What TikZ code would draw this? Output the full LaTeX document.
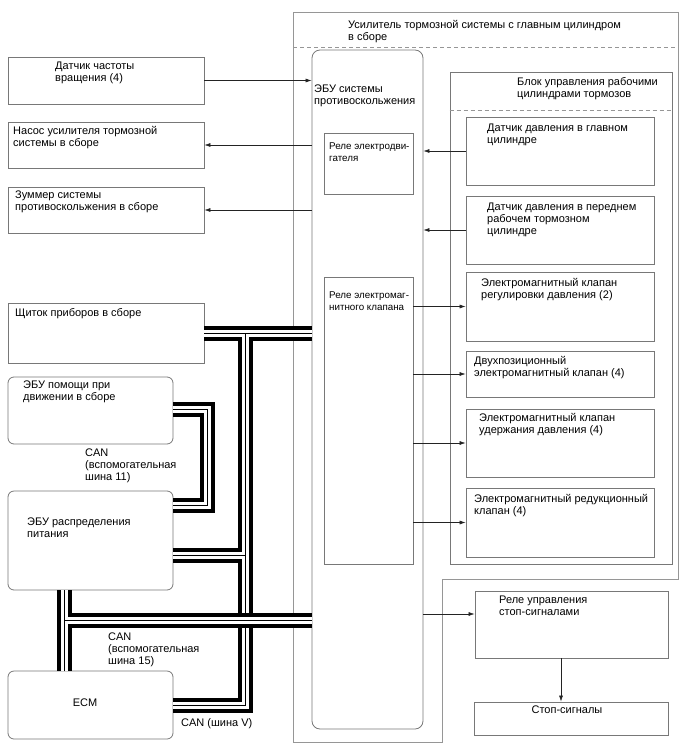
\documentclass[tikz,border=0pt]{standalone}
\usepackage{fontspec}
\setmainfont{Liberation Sans}
\usepackage{tikz}
\usetikzlibrary{arrows.meta, calc}
\definecolor{BoxGray}{RGB}{120,120,120}
\definecolor{FrameGray}{RGB}{150,150,150}
\definecolor{WireGray}{RGB}{35,35,35}

\begin{document}
\begin{tikzpicture}[x=1pt, y=-1pt,
    box/.style={rectangle, draw=BoxGray, line width=0.8pt, inner sep=0pt},
    rbox/.style={box, rounded corners=6pt},
    txt/.style={anchor=north west, inner sep=0pt, align=left, yshift=-2pt,
                font=\fontsize{11}{12}\selectfont},
    small/.style={txt, font=\fontsize{9.8}{12}\selectfont},
    arr/.style={-{Latex[length=6pt, width=4pt]}, WireGray, line width=0.6pt},
    divider/.style={FrameGray, dash pattern=on 4pt off 3pt, line width=0.8pt}
  ]
  \useasboundingbox (0,0) rectangle (688,755);

  % Booster assembly frame
  \draw[FrameGray, line width=0.9pt] (293,12) -- (678,12) -- (678,579)
        -- (442,579) -- (442,742) -- (293,742) -- cycle;
  \coordinate (fl) at (293,47);
  \coordinate (fr) at (678,47);
  \draw[divider] (fl) -- (fr);
  \node[txt] (asm-t) at (348,18)
        {Усилитель тормозной системы с главным цилиндром\\в сборе};

  % Skid control ECU
  \node[box, rounded corners=8pt, minimum width=111pt, minimum height=679pt]
        (ecu) at (367.5,389.5) {};
  \node[txt] (ecu-t) at (314,83) {ЭБУ системы\\противоскольжения};
  \node[box, minimum width=89pt, minimum height=61pt] (mr) at (368.5,163.5) {};
  \node[small] (mr-t) at (329,141) {Реле электродви-\\гателя};
  \node[box, minimum width=89pt, minimum height=287pt] (rv) at (368.5,420.5) {};
  \node[small] (rv-t) at (329,290) {Реле электромаг-\\нитного клапана};

  % Brake actuator block
  \node[box, minimum width=222pt, minimum height=492pt] (blk) at (561,318) {};
  \draw[divider] (blk.west |- 0,110) -- (blk.east |- 0,110);
  \node[txt] (blk-t) at (517,75) {Блок управления рабочими\\цилиндрами тормозов};
  \foreach \i/\y/\h in {1/151/68, 2/230/68, 3/306.5/69,
                        4/374/46, 5/443/68, 6/522.5/69} {
    \node[box, minimum width=188pt, minimum height=\h pt] (bk\i) at (560,\y) {};
  }
  \node[txt] (bk1-t) at (487,122) {Датчик давления в главном\\цилиндре};
  \node[txt] (bk2-t) at (487,201) {Датчик давления в переднем\\рабочем тормозном\\цилиндре};
  \node[txt] (bk3-t) at (481,276) {Электромагнитный клапан\\регулировки давления (2)};
  \node[txt] (bk4-t) at (474,354) {Двухпозиционный\\электромагнитный клапан (4)};
  \node[txt] (bk5-t) at (479,411) {Электромагнитный клапан\\удержания давления (4)};
  \node[txt] (bk6-t) at (474,492) {Электромагнитный редукционный\\клапан (4)};

  % Stop lamp relay and stop lamps
  \node[box, minimum width=193pt, minimum height=67pt] (blr) at (571.5,624.5) {};
  \node[txt] (blr-t) at (499,594) {Реле управления\\стоп-сигналами};
  \node[box, minimum width=194pt, minimum height=33pt] (stp) at (571,718.5) {};
  \node[font=\fontsize{11}{12}\selectfont, inner sep=0pt] (stp-t) at (567,710) {Стоп-сигналы};

  % Left side units
  \node[box, minimum width=196pt, minimum height=47pt] (dat) at (106,80.5) {};
  \node[txt] (dat-t) at (55,60) {Датчик частоты\\вращения (4)};
  \node[box, minimum width=196pt, minimum height=46pt] (pump) at (106,145) {};
  \node[txt] (pump-t) at (13,124) {Насос усилителя тормозной\\системы в сборе};
  \node[box, minimum width=196pt, minimum height=46pt] (buzz) at (106,210) {};
  \node[txt] (buzz-t) at (15,189) {Зуммер системы\\противоскольжения в сборе};
  \node[box, minimum width=196pt, minimum height=60pt] (clu) at (106,333) {};
  \node[txt] (clu-t) at (15,306) {Щиток приборов в сборе};
  \node[rbox, minimum width=165pt, minimum height=67pt] (dam) at (90.5,410.5) {};
  \node[txt] (dam-t) at (23,379) {ЭБУ помощи при\\движении в сборе};
  \node[rbox, minimum width=165pt, minimum height=99pt] (pdu) at (90.5,540.5) {};
  \node[txt] (pdu-t) at (27,516) {ЭБУ распределения\\питания};
  \node[rbox, minimum width=165pt, minimum height=68pt] (ecm) at (90.5,705) {};
  \node[font=\fontsize{11}{12}\selectfont, inner sep=0pt] (ecm-t) at (85,703) {ECM};

  % CAN labels
  \node[txt] (can11) at (85,447) {CAN\\(вспомогательная\\шина 11)};
  \node[txt] (can15) at (108,631) {CAN\\(вспомогательная\\шина 15)};
  \node[txt] (canv) at (181,716) {CAN (шина V)};

  % Signal lines
  \draw[arr] (dat.east) -- (dat.east -| ecu.west);
  \draw[arr] (pump.east -| ecu.west) -- (pump.east);
  \draw[arr] (buzz.east -| ecu.west) -- (buzz.east);
  \foreach \i in {1,2}
    \draw[arr] (bk\i.west) -- (bk\i.west -| ecu.east);
  \foreach \i in {3,...,6}
    \draw[arr] (bk\i.west -| rv.east) -- (bk\i.west);
  \coordinate (blr-in) at ($(blr.west)+(0,-10.5)$);
  \draw[arr] (blr-in -| ecu.east) -- (blr-in);
  \coordinate (blr-out) at ($(blr.south)+(-10.5,0)$);
  \draw[arr] (blr-out) -- (blr-out |- stp.north);

  % CAN buses
  \coordinate (j1) at (245,333);
  \coordinate (j2) at (245,555.5);
  \coordinate (j3) at (245,612.5);
  \coordinate (j4) at (245,627.5);
  \coordinate (m0) at (64,620);
  \coordinate (u1) at (207,409);
  \coordinate (u2) at (207,505.5);
  \foreach \w/\c in {15/black, 7/white, 1/black} {
    \draw[line width=\w pt, \c]
      (clu.east) -- (clu.east -| ecu.west)
      (j1) -- (j3)
      (pdu.east |- j2) -- (j2)
      (pdu.south -| m0) -- (ecm.north -| m0)
      (m0) -- (m0 -| ecu.west)
      (ecm.east) -- (ecm.east -| j4) -- (j4)
      (dam.east |- u1) -- (u1) -- (u2) -- (dam.east |- u2);
  }
\end{tikzpicture}
\end{document}
